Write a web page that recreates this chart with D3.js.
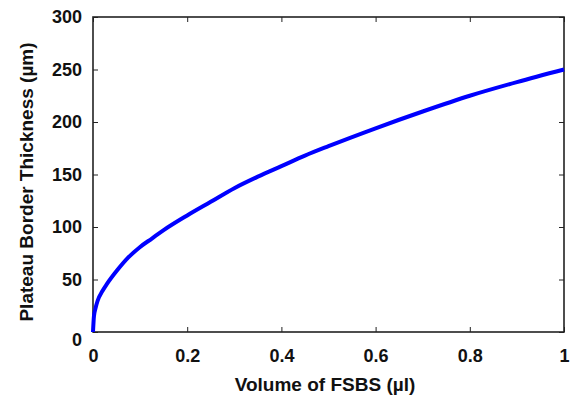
<!DOCTYPE html>
<html>
<head>
<meta charset="utf-8">
<script src="https://cdn.jsdelivr.net/npm/d3@7"></script>
<style>
  body { margin: 0; background: #fff; }
  text { font-family: "Liberation Sans", Arial, sans-serif; font-weight: bold; fill: #111; }
</style>
</head>
<body>
<svg id="chart" width="574" height="400"></svg>
<script>
// values
const volume = [0, 0.002, 0.005, 0.01, 0.02, 0.03, 0.05, 0.075, 0.1, 0.125, 0.15, 0.2, 0.25, 0.3, 0.35, 0.4, 0.45, 0.5, 0.6, 0.7, 0.8, 0.9, 1.0];
const thickness = [0, 15, 22, 30, 39, 46, 58, 71, 81, 89, 97, 111, 124, 137, 148, 158, 168, 177, 194, 210, 225, 238, 250];
const xTicks = [0, 0.2, 0.4, 0.6, 0.8, 1];
const yTicks = [0, 50, 100, 150, 200, 250, 300];
const xTitle = "Volume of FSBS (µl)";
const yTitle = "Plateau Border Thickness (µm)";

const mLeft = 93, mRight = 564, mTop = 17, mBottom = 332;
const svg = d3.select("#chart");

const x = d3.scaleLinear().domain([0, 1]).range([mLeft, mRight]);
const y = d3.scaleLinear().domain([0, 300]).range([mBottom, mTop]);

// ticks inward, on all four sides
const xAxis = d3.axisBottom(x).tickValues(xTicks).tickSizeInner(-5).tickSizeOuter(0).tickPadding(17)
  .tickFormat(d => d === 0 || d === 1 ? d : d3.format(".1f")(d));
const yAxis = d3.axisLeft(y).tickValues(yTicks).tickSizeInner(-5).tickSizeOuter(0).tickPadding(11);

svg.append("g").attr("transform", `translate(0,${mBottom})`).call(xAxis);
const gy = svg.append("g").attr("transform", `translate(${mLeft},0)`).call(yAxis);
svg.append("g").attr("transform", `translate(0,${mTop})`)
  .call(d3.axisTop(x).tickValues(xTicks).tickSizeInner(-5).tickSizeOuter(0).tickFormat(""));
svg.append("g").attr("transform", `translate(${mRight},0)`)
  .call(d3.axisRight(y).tickValues(yTicks).tickSizeInner(-5).tickSizeOuter(0).tickFormat(""));

svg.selectAll(".domain").remove();
svg.selectAll(".tick line").attr("stroke", "#222");
svg.selectAll(".tick text").style("font-size", "18px").style("font-family", "Liberation Sans, Arial, sans-serif").style("font-weight", "bold").attr("fill", "#111");
// the 0 on the y axis sits a little low in the original
gy.selectAll(".tick text").filter(d => d === 0).attr("dy", "0.75em");

// frame
svg.append("rect")
  .attr("x", mLeft).attr("y", mTop)
  .attr("width", mRight - mLeft).attr("height", mBottom - mTop)
  .attr("fill", "none").attr("stroke", "#222").attr("stroke-width", 1.6);

// curve
const line = d3.line().x((d, i) => x(volume[i])).y(d => y(d)).curve(d3.curveMonotoneX);
svg.append("path")
  .datum(thickness)
  .attr("d", line)
  .attr("fill", "none")
  .attr("stroke", "#0000ff")
  .attr("stroke-width", 4);

// axis titles
svg.append("text")
  .attr("x", 325).attr("y", 391)
  .attr("text-anchor", "middle")
  .style("font-size", "19px")
  .text(xTitle);

svg.append("text")
  .attr("transform", `translate(33,182) rotate(-90)`)
  .attr("text-anchor", "middle")
  .style("font-size", "19px")
  .text(yTitle);
</script>
</body>
</html>
